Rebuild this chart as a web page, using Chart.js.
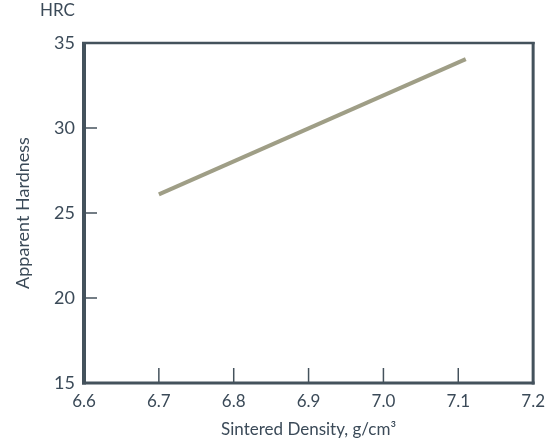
<!DOCTYPE html>
<html>
<head>
<meta charset="utf-8">
<script src="https://cdn.jsdelivr.net/npm/chart.js@4"></script>
<style>
  html, body { margin: 0; padding: 0; background: #fff; }
  #wrap { width: 553px; height: 444px; }
</style>
</head>
<body>
<div id="wrap"><canvas id="chart-hardness" width="553" height="444"></canvas></div>
<script>
// data
const densityX = [6.7, 7.11];
const hardnessY = [26.1, 34.05];
const xTicks = [6.6, 6.7, 6.8, 6.9, 7.0, 7.1, 7.2];
const yTicks = [15, 20, 25, 30, 35];

const INK = '#3b4a58';
const FRAME = '#44525c';
const FONT = 'Lato, "Open Sans", sans-serif';

// frame + inward tick marks + unit label
const framePlugin = {
  id: 'frame',
  afterDatasetsDraw(chart) {
    const { ctx, chartArea: a, scales } = chart;
    ctx.save();
    ctx.strokeStyle = FRAME;
    ctx.lineCap = 'butt';
    // tick marks, drawn inward
    ctx.lineWidth = 1.5;
    xTicks.slice(1, -1).forEach(v => {
      const px = scales.x.getPixelForValue(v);
      ctx.beginPath(); ctx.moveTo(px, a.bottom); ctx.lineTo(px, a.bottom - 15); ctx.stroke();
    });
    yTicks.slice(1, -1).forEach(v => {
      const py = scales.y.getPixelForValue(v);
      ctx.beginPath(); ctx.moveTo(a.left, py); ctx.lineTo(a.left + 13, py); ctx.stroke();
    });
    // frame, sides of different weight
    const side = (w, x1, y1, x2, y2) => {
      ctx.lineWidth = w;
      ctx.beginPath(); ctx.moveTo(x1, y1); ctx.lineTo(x2, y2); ctx.stroke();
    };
    side(2.5, a.left - 2, a.top, a.right + 1.5, a.top);
    side(3, a.right, a.top - 1, a.right, a.bottom + 1.5);
    side(3, a.left - 2, a.bottom, a.right + 1.5, a.bottom);
    side(4, a.left, a.top - 1, a.left, a.bottom + 1.5);
    // unit
    ctx.fillStyle = INK;
    ctx.font = '17px ' + FONT;
    ctx.textAlign = 'left';
    ctx.textBaseline = 'middle';
    ctx.fillText('HRC', 40, 11);
    ctx.restore();
  }
};

new Chart(document.getElementById('chart-hardness'), {
  type: 'scatter',
  data: {
    datasets: [{
      label: 'Apparent Hardness',
      data: densityX.map((x, i) => ({ x, y: hardnessY[i] })),
      showLine: true,
      borderColor: '#9f9e86',
      borderWidth: 4,
      pointRadius: 0,
      borderCapStyle: 'butt',
      clip: false,
    }]
  },
  options: {
    responsive: false,
    animation: false,
    layout: { padding: { left: 8, right: 12, top: 43, bottom: 0 } },
    plugins: { legend: { display: false }, tooltip: { enabled: false } },
    scales: {
      x: {
        type: 'linear',
        min: 6.6,
        max: 7.2,
        afterBuildTicks: s => { s.ticks = xTicks.map(v => ({ value: v })); },
        afterFit: s => { s.height = 61; },
        grid: { display: false, drawTicks: false },
        border: { display: false },
        ticks: {
          color: INK,
          padding: 8,
          font: { family: FONT, size: 17 },
          callback: v => v.toFixed(1)
        },
        title: {
          display: true,
          text: 'Sintered Density, g/cm³',
          color: INK,
          padding: { top: 4, bottom: 4 },
          font: { family: FONT, size: 17 }
        }
      },
      y: {
        min: 15,
        max: 35,
        afterBuildTicks: s => { s.ticks = yTicks.map(v => ({ value: v })); },
        afterFit: s => { s.width = 76; },
        grid: { display: false, drawTicks: false },
        border: { display: false },
        ticks: {
          color: INK,
          padding: 9,
          font: { family: FONT, size: 18 }
        },
        title: {
          display: true,
          text: 'Apparent Hardness',
          color: INK,
          padding: { top: 4, bottom: 10 },
          font: { family: FONT, size: 18 }
        }
      }
    }
  },
  plugins: [framePlugin]
});
</script>
</body>
</html>
